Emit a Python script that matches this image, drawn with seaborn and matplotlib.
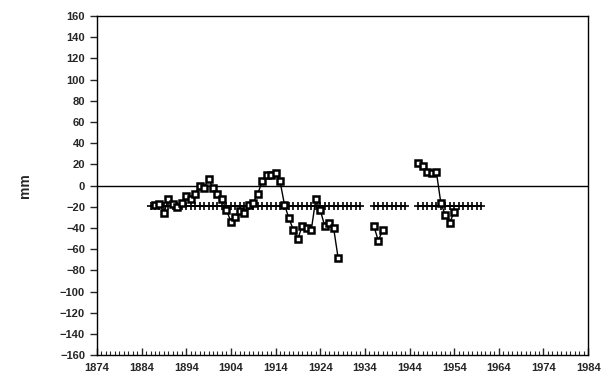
"""Annual sea level anomaly (mm) against a segment mean, 1874-1984."""

import matplotlib

matplotlib.use("Agg")
import matplotlib.pyplot as plt
import numpy as np
import pandas as pd
import seaborn as sns

# annual values (mm), one list per gap-free run
years_a = list(range(1887, 1929))
level_a = [-18, -17, -26, -13, -17, -20, -16, -10, -13, -8,
           0, -2, 6, -2, -8, -13, -23, -34, -30, -24,
           -26, -18, -16, -8, 4, 10, 10, 12, 4, -18,
           -31, -42, -50, -38, -40, -42, -13, -23, -38, -35,
           -40, -68]
years_b = [1936, 1937, 1938]
level_b = [-38, -52, -42]
years_c = [1946, 1947, 1948, 1949, 1950, 1951, 1952, 1953, 1954]
level_c = [21, 18, 13, 12, 13, -16, -28, -35, -25]

# mean reference line: (first year, last year) per run, and its level
mean_spans = [(1886, 1933), (1936, 1943), (1946, 1960)]
mean_level = -19

x_ticks = list(range(1874, 1985, 10))
y_ticks = list(range(-160, 161, 20))

sns.set_style("ticks")
plt.rcParams["font.family"] = ["Liberation Sans", "DejaVu Sans"]

fig = plt.figure(figsize=(6.02, 3.81), dpi=100)
ax = fig.add_axes([0.161, 0.068, 0.816, 0.890])

runs = [(years_a, level_a), (years_b, level_b), (years_c, level_c)]
for yrs, vals in runs:
    df = pd.DataFrame({"year": yrs, "mm": vals})
    sns.lineplot(data=df, x="year", y="mm", ax=ax, color="black", lw=1.0,
                 marker="s", markersize=5, markerfacecolor="white",
                 markeredgecolor="black", markeredgewidth=1.8, zorder=3)

for start, end in mean_spans:
    yrs = np.arange(start, end + 1)
    df = pd.DataFrame({"year": yrs, "mm": np.full(len(yrs), mean_level)})
    sns.lineplot(data=df, x="year", y="mm", ax=ax, color="black", lw=1.4,
                 marker="+", markersize=6, markeredgecolor="black",
                 markeredgewidth=1.2, zorder=2)

ax.axhline(0, color="black", lw=1.0, zorder=1)

ax.set_xlim(1874, 1984)
ax.set_ylim(-160, 160)
ax.set_xticks(x_ticks)
ax.set_xticks(range(1874, 1985), minor=True)
ax.set_yticks(y_ticks)
ax.tick_params(axis="x", which="major", direction="in", length=5, width=1,
               labelsize=8, pad=6)
ax.tick_params(axis="x", which="minor", direction="in", length=3, width=0.8)
ax.tick_params(axis="y", direction="out", length=5, width=1, labelsize=8)
ax.set_yticklabels([str(v).replace("-", "\u2212") for v in y_ticks])
for lab in ax.get_xticklabels() + ax.get_yticklabels():
    lab.set_fontweight("bold")

ax.set_xlabel("")
ax.set_ylabel("mm", fontsize=10, fontweight="bold", labelpad=20)
for side in ["top", "right", "left", "bottom"]:
    ax.spines[side].set_visible(True)
    ax.spines[side].set_linewidth(1.0)
    ax.spines[side].set_color("black")

fig.savefig("out.png", dpi=100)
